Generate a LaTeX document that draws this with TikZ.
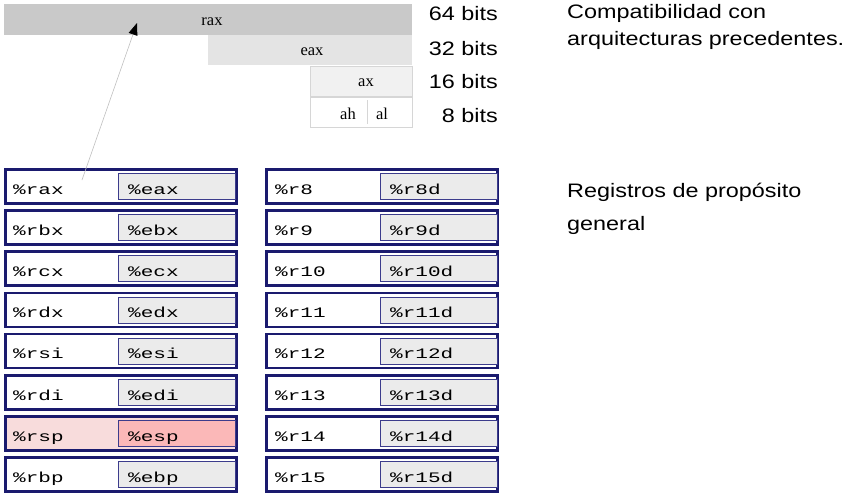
\documentclass[tikz,border=0pt]{standalone}
\usepackage{fontspec}
\setmainfont{Liberation Sans}[FakeStretch=1.2]
\newfontfamily\barfont{Liberation Serif}
\newfontfamily\regfont{Liberation Mono}[FakeStretch=1.45]
\usetikzlibrary{arrows.meta}

\definecolor{navy}{HTML}{1A1A6E}
\definecolor{navyB}{HTML}{3C3C8C}
\definecolor{barA}{HTML}{C9C9C9}
\definecolor{barB}{HTML}{E4E4E4}
\definecolor{barC}{HTML}{F1F1F1}
\definecolor{lineA}{HTML}{D6D6D6}
\definecolor{subA}{HTML}{EBEBEB}
\definecolor{pinkA}{HTML}{F8DCDC}
\definecolor{pinkB}{HTML}{FBB8B8}

\tikzset{
  bar/.style={rectangle, inner sep=0pt, anchor=north west, minimum height=30pt,
    font=\barfont\fontsize{16.5}{17}\selectfont},
  bartext/.style={bar, anchor=center, yshift=-2pt},
  bitstext/.style={anchor=base east, inner sep=0pt, font=\fontsize{19.5}{20}\selectfont},
  note/.style={anchor=base west, inner sep=0pt, align=left},
  rowbox/.style={rectangle, draw=navy, line width=2.5pt, inner sep=0pt, anchor=north west,
    minimum width=231pt, minimum height=34pt},
  rowbox plain/.style={fill=white},
  rowbox hot/.style={fill=pinkA},
  subbox/.style={rectangle, draw=navyB, line width=1pt, inner sep=0pt, anchor=north west,
    minimum width=117pt, minimum height=26pt},
  subbox plain/.style={fill=subA},
  subbox hot/.style={fill=pinkB},
  regtext/.style={anchor=base west, inner sep=0pt, font=\regfont\fontsize{14.5}{15}\selectfont},
  pointer/.style={draw=gray!50, line width=0.6pt, -{Triangle[length=12pt,width=9pt,black]}}
}

\begin{document}
\begin{tikzpicture}[x=1pt,y=-1pt]
\useasboundingbox (0,0) rectangle (851,496);

%%%%%%%%%%%%%------------- partes de rax
\node[bar, fill=barA, minimum width=408pt, minimum height=31pt] (rax64) at (4,4) {};
\node[bartext] (raxt) at (212,19.5) {rax};
\node[bar, fill=barB, minimum width=204pt] (eax32) at (208,35) {};
\node[bartext] (eaxt) at (312,50) {eax};
\node[bar, fill=barC, draw=lineA, line width=0.6pt, minimum width=102pt] (ax16) at (310,66) {};
\node[bartext] (axt) at (366,81) {ax};
\node[bar, fill=white, draw=lineA, line width=0.6pt, minimum width=102pt] (byte8) at (310,97) {};
\node[bartext] (ah) at (348,112) {ah};
\node[bartext] (al) at (382,112) {al};
\draw[lineA, line width=0.6pt] (367,100) -- (367,124);

\node[bitstext] (b64) at (498,20) {64 bits};
\node[bitstext] (b32) at (498,55) {32 bits};
\node[bitstext] (b16) at (498,88) {16 bits};
\node[bitstext] (b8) at (498,122) {8 bits};

\node[note, font=\fontsize{19.5}{27}\selectfont] (compat) at (567,45)
  {Compatibilidad con\\arquitecturas precedentes.};
\node[note, font=\fontsize{19.5}{33}\selectfont] (gral) at (567,230)
  {Registros de prop\'osito\\general};

%%%%%%%%%%%%%------------- registros
\foreach \q/\e/\s [count=\i from 0] in {rax/eax/plain, rbx/ebx/plain, rcx/ecx/plain,
    rdx/edx/plain, rsi/esi/plain, rdi/edi/plain, rsp/esp/hot, rbp/ebp/plain}{
  \pgfmathsetmacro\y{168+41.2*\i}
  \node[rowbox, rowbox \s] (\q) at (4,\y) {};
  \node[subbox, subbox \s] (\e) at (118,\y+5) {};
  \node[regtext] (t\q) at (13,\y+26) {\%\q};
  \node[regtext] (t\e) at (128,\y+26) {\%\e};
}
\foreach \n [count=\i from 0] in {8,...,15}{
  \pgfmathsetmacro\y{168+41.2*\i}
  \node[rowbox, rowbox plain] (r\n) at (265,\y) {};
  \node[subbox, subbox plain] (r\n d) at (380,\y+5) {};
  \node[regtext] (tr\n) at (275,\y+26) {\%r\n};
  \node[regtext] (tr\n d) at (390,\y+26) {\%r\n d};
}

\coordinate (src) at (82,180);
\coordinate (dst) at (137,23);
\draw[pointer] (src) -- (dst);

\end{tikzpicture}
\end{document}
